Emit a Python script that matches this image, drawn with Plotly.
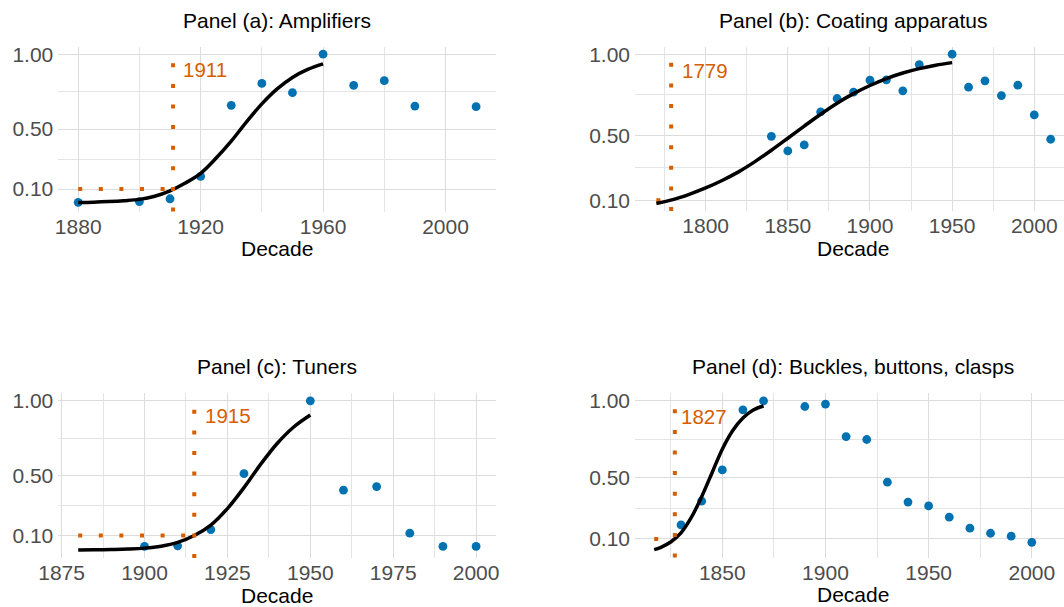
import plotly.graph_objects as go

W, H = 1064, 607

# ---------------- data ----------------
# Panel (a): Amplifiers
a_dec = [1880, 1900, 1910, 1920, 1930, 1940, 1950, 1960, 1970, 1980, 1990, 2010]
a_val = [0.011, 0.016, 0.035, 0.184, 0.659, 0.805, 0.743, 1.0, 0.792, 0.823, 0.654, 0.650]
a_fit_x = [1880, 1885, 1890, 1895, 1900, 1905, 1910, 1915, 1920, 1925, 1930, 1935, 1940, 1945, 1950, 1955, 1960]
a_fit_y = [0.010, 0.012, 0.016, 0.022, 0.031, 0.052, 0.088, 0.140, 0.205, 0.305, 0.420, 0.548, 0.668, 0.768, 0.845, 0.898, 0.935]
a_takeoff = 1911

# Panel (b): Coating apparatus
b_dec = [1840, 1850, 1860, 1870, 1880, 1890, 1900, 1910, 1920, 1930, 1950, 1960, 1970, 1980, 1990, 2000, 2010]
b_val = [0.494, 0.404, 0.441, 0.644, 0.727, 0.766, 0.840, 0.842, 0.774, 0.936, 1.0, 0.797, 0.836, 0.745, 0.809, 0.626, 0.476]
b_fit_x = [1770, 1780, 1790, 1800, 1810, 1820, 1830, 1840, 1850, 1860, 1870, 1880, 1890, 1900, 1910, 1920, 1930, 1940, 1950]
b_fit_y = [0.080, 0.104, 0.137, 0.176, 0.222, 0.275, 0.338, 0.408, 0.482, 0.557, 0.630, 0.698, 0.757, 0.807, 0.850, 0.884, 0.911, 0.932, 0.948]
b_takeoff = 1779

# Panel (c): Tuners
c_dec = [1900, 1910, 1920, 1930, 1950, 1960, 1970, 1980, 1990, 2000]
c_val = [0.027, 0.031, 0.140, 0.514, 1.0, 0.403, 0.427, 0.116, 0.027, 0.027]
c_fit_x = [1880, 1885, 1890, 1895, 1900, 1905, 1910, 1915, 1920, 1925, 1930, 1935, 1940, 1945, 1950]
c_fit_y = [0.004, 0.005, 0.007, 0.010, 0.016, 0.029, 0.054, 0.100, 0.170, 0.280, 0.420, 0.575, 0.715, 0.825, 0.905]
c_takeoff = 1915

# Panel (d): Buckles, buttons, clasps
d_dec = [1830, 1840, 1850, 1860, 1870, 1890, 1900, 1910, 1920, 1930, 1940, 1950, 1960, 1970, 1980, 1990, 2000]
d_val = [0.191, 0.346, 0.550, 0.941, 1.0, 0.963, 0.979, 0.767, 0.748, 0.470, 0.340, 0.315, 0.242, 0.170, 0.137, 0.118, 0.078]
d_fit_x = [1817, 1820, 1825, 1830, 1835, 1840, 1845, 1850, 1855, 1860, 1865, 1870]
d_fit_y = [0.030, 0.044, 0.080, 0.140, 0.240, 0.375, 0.530, 0.685, 0.805, 0.888, 0.940, 0.966]
d_takeoff = 1827

titles = ["Panel (a): Amplifiers", "Panel (b): Coating apparatus",
          "Panel (c): Tuners", "Panel (d): Buckles, buttons, clasps"]
y_ticks = [0.1, 0.5, 1.0]
y_ticktext = ["0.10", "0.50", "1.00"]
y_minor = [0.3, 0.75]

# ---------------- layout geometry (pixels) ----------------
panels = [
    dict(dec=a_dec, val=a_val, fx=a_fit_x, fy=a_fit_y, take=a_takeoff,
         px=(58.3, 496.0), py=(46.7, 211.5), xr=[1873.5, 2016.5], yr=[-0.05, 1.05],
         xt=[1880, 1920, 1960, 2000], xm=[1900, 1940, 1980], title_x=277, lab_shift=10),
    dict(dec=b_dec, val=b_val, fx=b_fit_x, fy=b_fit_y, take=b_takeoff,
         px=(635.0, 1064.0), py=(46.7, 211.0), xr=[1757.0, 2018.1], yr=[0.034, 1.046],
         xt=[1800, 1850, 1900, 1950, 2000], xm=[1775, 1825, 1875, 1925, 1975], title_x=853, lab_shift=11),
    dict(dec=c_dec, val=c_val, fx=c_fit_x, fy=c_fit_y, take=c_takeoff,
         px=(58.3, 496.0), py=(393.3, 558.0), xr=[1874.0, 2006.0], yr=[-0.05, 1.05],
         xt=[1875, 1900, 1925, 1950, 1975, 2000], xm=[1887.5, 1912.5, 1937.5, 1962.5, 1987.5], title_x=277, lab_shift=11),
    dict(dec=d_dec, val=d_val, fx=d_fit_x, fy=d_fit_y, take=d_takeoff,
         px=(635.0, 1064.0), py=(393.3, 557.5), xr=[1807.7, 2015.6], yr=[-0.021, 1.049],
         xt=[1850, 1900, 1950, 2000], xm=[1825, 1875, 1925, 1975], title_x=853, lab_shift=6),
]

BLUE = "#0072B2"
ORANGE = "#D55E00"
GRID = "#DCDCDC"
GRID_MINOR = "#E4E4E4"
TICK_COL = "#4D4D4D"
FONT = "Liberation Sans, Arial, sans-serif"
TICK_SIZE = 21
TITLE_SIZE = 21
LABEL_SIZE = 20.5

fig = go.Figure()
annotations = []
shapes = []
layout = dict(width=W, height=H, margin=dict(l=0, r=0, t=0, b=0, pad=0, autoexpand=False),
              paper_bgcolor="white", plot_bgcolor="white", showlegend=False,
              font=dict(family=FONT))

for i, p in enumerate(panels):
    n = "" if i == 0 else str(i + 1)
    xa, ya = "x" + n, "y" + n
    # points
    fig.add_trace(go.Scatter(x=p["dec"], y=p["val"], mode="markers", xaxis=xa, yaxis=ya,
                             marker=dict(color=BLUE, size=8.8, line=dict(width=0)),
                             hoverinfo="skip"))
    # horizontal dotted threshold line at 0.1 from first fit year to take-off year
    fig.add_trace(go.Scatter(x=[p["fx"][0], p["take"]], y=[0.1, 0.1], mode="lines",
                             xaxis=xa, yaxis=ya,
                             line=dict(color=ORANGE, width=4, dash="4px,16.6px"),
                             hoverinfo="skip"))
    # fitted logistic curve
    fig.add_trace(go.Scatter(x=p["fx"], y=p["fy"], mode="lines", xaxis=xa, yaxis=ya,
                             line=dict(color="black", width=3.5, shape="spline", smoothing=1.0),
                             hoverinfo="skip"))
    # vertical dotted take-off line
    shapes.append(dict(type="line", xref=xa, yref=ya + " domain", x0=p["take"], x1=p["take"],
                       y0=0, y1=1, line=dict(color=ORANGE, width=4, dash="4px,16.6px"), layer="above"))
    # take-off year label
    annotations.append(dict(xref=xa, yref=ya, x=p["take"], y=0.9, text=str(p["take"]),
                            showarrow=False, xanchor="left", yanchor="middle", xshift=p["lab_shift"] - 2,
                            font=dict(color=ORANGE, size=LABEL_SIZE, family=FONT)))

    dom_x = [p["px"][0] / W, p["px"][1] / W]
    dom_y = [1 - p["py"][1] / H, 1 - p["py"][0] / H]
    layout["xaxis" + n] = dict(domain=dom_x, range=p["xr"], anchor=ya, automargin=False,
                               tickmode="array", tickvals=p["xt"], ticktext=[str(v) for v in p["xt"]],
                               showgrid=True, gridcolor=GRID, gridwidth=1.2, zeroline=False, showline=False,
                               ticks="", tickfont=dict(size=TICK_SIZE, color=TICK_COL, family=FONT),
                               minor=dict(tickmode="array", tickvals=p["xm"], showgrid=True,
                                          gridcolor=GRID_MINOR, gridwidth=1.0),
                               fixedrange=True)
    layout["yaxis" + n] = dict(domain=dom_y, range=p["yr"], anchor=xa, automargin=False,
                               tickmode="array", tickvals=y_ticks, ticktext=y_ticktext,
                               showgrid=True, gridcolor=GRID, gridwidth=1.2, zeroline=False, showline=False,
                               ticks="", ticklabelstandoff=4,
                               tickfont=dict(size=TICK_SIZE, color=TICK_COL, family=FONT),
                               minor=dict(tickmode="array", tickvals=y_minor, showgrid=True,
                                          gridcolor=GRID_MINOR, gridwidth=1.0),
                               fixedrange=True)
    # panel title
    top_px = p["py"][0]
    annotations.append(dict(xref="paper", yref="paper", x=p["title_x"] / W,
                            y=1 - (top_px - 26.5) / H, text=titles[i], showarrow=False,
                            xanchor="center", yanchor="middle",
                            font=dict(color="black", size=TITLE_SIZE, family=FONT)))
    # axis title
    bot_px = p["py"][1]
    annotations.append(dict(xref="paper", yref="paper", x=p["title_x"] / W,
                            y=1 - (bot_px + 37) / H, text="Decade", showarrow=False,
                            xanchor="center", yanchor="middle",
                            font=dict(color="black", size=TITLE_SIZE, family=FONT)))

layout["annotations"] = annotations
layout["shapes"] = shapes
fig.update_layout(**layout)
fig.write_html("out.html")
